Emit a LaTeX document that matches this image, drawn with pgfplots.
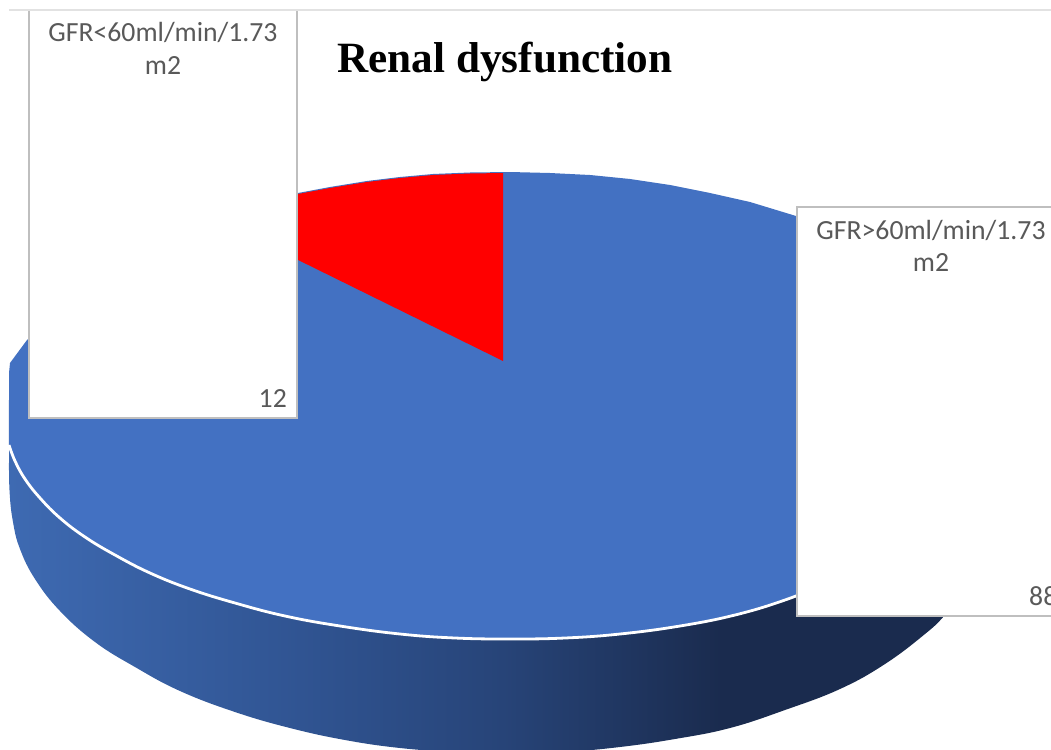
\documentclass[border=0pt]{standalone}
\usepackage{pgfplots}
\pgfplotsset{compat=1.18}
\usepackage{fontspec}
\setmainfont{Carlito}
\newfontfamily\titlefont{Liberation Serif}
\definecolor{disc}{RGB}{67,113,194}
\definecolor{boxline}{RGB}{191,191,191}
\definecolor{lab}{RGB}{89,89,89}
\definecolor{topline}{RGB}{226,226,226}
\definecolor{sa}{RGB}{62,106,178}
\definecolor{sb}{RGB}{48,84,146}
\definecolor{sc}{RGB}{39,68,120}
\definecolor{sd}{RGB}{26,43,78}
\pgfdeclarehorizontalshading{sideshade}{100bp}{color(0bp)=(sa); color(25bp)=(sa); color(39.9bp)=(sb); color(50.2bp)=(sc); color(61.4bp)=(sd); color(100bp)=(sd)}
\begin{document}
\begin{tikzpicture}
\path[use as bounding box, clip] (0,0) rectangle (1051pt,749pt);
\begin{axis}[
  at={(0,0)}, anchor=south west,
  scale only axis, width=1051pt, height=749pt,
  xmin=0, xmax=1051, ymin=0, ymax=749, y dir=reverse,
  hide axis, clip=true]
% side of the disc
\addplot[draw=none, shading=sideshade, smooth, tension=0.7] coordinates {
 (9,400) (9,447) (9.5,490) (13,522) (20,549) (35,579) (60,611) (95,642) (135,667) (180,691)
 (235,712) (290,728) (345,740) (400,748) (455,752) (510,754) (565,752) (620,747)
 (675,739) (730,728) (785,710) (840,689) (885,664) (925,634) (945,615) (965,590) (985,540) (985,400)} -- cycle;
% top of the disc
\addplot[draw=none, fill=disc] coordinates {
 (9,373) (9,445) (15,461) (25,479) (40,498) (60,518) (85,537) (115,555) (150,573)
 (190,589) (235,603) (285,616) (340,626) (400,634) (455,638) (510,639) (565,638)
 (620,634) (680,626) (735,615) (785,600) (830,582) (870,560) (870,300) (796,216)
 (750,202) (710,193) (670,185) (630,179) (590,175) (550,173) (510,172) (470,172.5)
 (433,174) (400,177) (367,181) (330,187) (298,193) (200,220) (100,275) (27,340) (10,363)} -- cycle;
% rim
\addplot[white, line width=2.8pt, smooth, tension=0.7] coordinates {
 (9,445) (15,461) (25,479) (40,498) (60,518) (85,537) (115,555) (150,573)
 (190,589) (235,603) (285,616) (340,626) (400,634) (455,638) (510,639) (565,638)
 (620,634) (680,626) (735,615) (785,600) (830,582)};
% red slice (12)
\addplot[draw=none, fill=red] coordinates {
 (503,173) (470,173.5) (433,175) (400,178) (367,182) (330,188) (290,195.5) (290,256) (503,361)} -- cycle;
% label boxes
\addplot[draw=boxline, line width=2.5pt, fill=white] coordinates {
 (29,10) (29,418) (297,418) (297,10)} -- cycle;
\addplot[draw=boxline, line width=2.5pt, fill=white] coordinates {
 (797,207) (797,616) (1070,616) (1070,207)} -- cycle;
\addplot[topline, line width=1.5pt] coordinates {(9,10) (1051,10)};
\node[text=lab, font=\fontsize{27.7}{33}\selectfont] at (axis cs:163,32) {GFR<60ml/min/1.73};
\node[text=lab, font=\fontsize{27.7}{33}\selectfont] at (axis cs:163,66) {m2};
\node[text=lab, font=\fontsize{27.7}{33}\selectfont, anchor=east, inner sep=0pt] at (axis cs:287,399) {12};
\node[text=lab, font=\fontsize{27.7}{33}\selectfont] at (axis cs:931,230) {GFR>60ml/min/1.73};
\node[text=lab, font=\fontsize{27.7}{33}\selectfont] at (axis cs:931,263) {m2};
\node[text=lab, font=\fontsize{27.7}{33}\selectfont, anchor=west, inner sep=0pt] at (axis cs:1029,596) {88};
\node[font=\titlefont\bfseries\fontsize{43.2}{52}\selectfont, text=black] at (axis cs:505,62) {Renal dysfunction};
\end{axis}
\end{tikzpicture}
\end{document}
